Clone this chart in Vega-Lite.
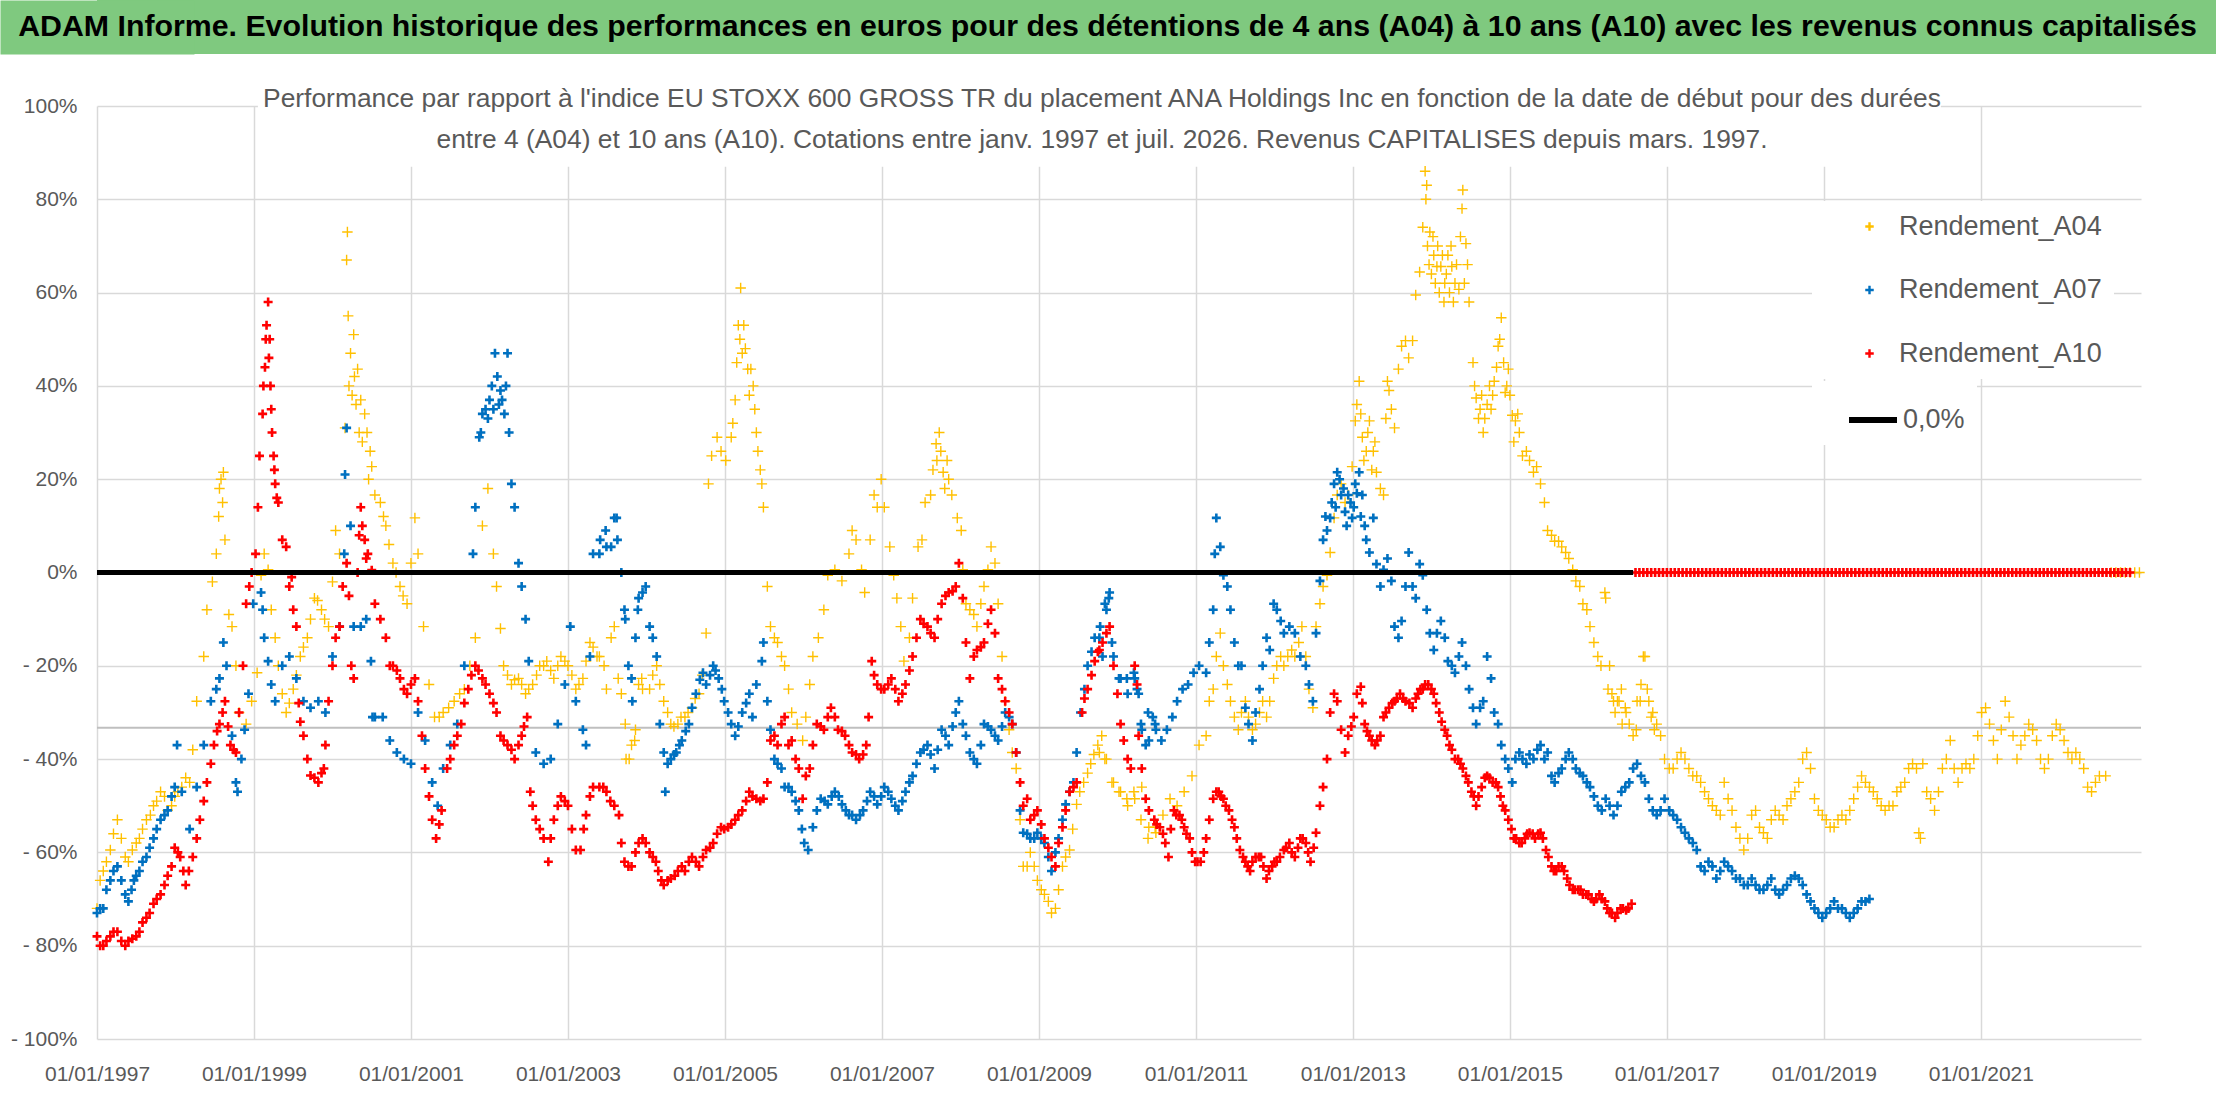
{
  "$schema": "https://vega.github.io/schema/vega-lite/v6.json",
  "description": "ADAM Informe - ANA Holdings Inc vs EU STOXX 600 GROSS TR, rendements A04 A07 A10",
  "background": "white",
  "padding": 0,
  "columns": 1,
  "spacing": 31,
  "resolve": {"scale": {"color": "independent", "strokeDash": "independent"}, "legend": {"color": "independent", "strokeDash": "independent"}},
  "config": {"view": {"stroke": null}},
  "datasets": {
    "a04": [
      {"t":1997.00,"v":-72},{"t":1997.04,"v":-66},{"t":1997.08,"v":-64},{"t":1997.12,"v":-62},{"t":1997.17,"v":-59.5},{"t":1997.21,"v":-56},{"t":1997.26,"v":-53},{"t":1997.31,"v":-57},{"t":1997.36,"v":-61},{"t":1997.40,"v":-62},{"t":1997.45,"v":-59.5},{"t":1997.50,"v":-58},{"t":1997.54,"v":-57},{"t":1997.58,"v":-55},{"t":1997.63,"v":-53},{"t":1997.68,"v":-52},{"t":1997.72,"v":-50},{"t":1997.76,"v":-49},{"t":1997.81,"v":-47},{"t":1997.86,"v":-48},{"t":1997.90,"v":-51},{"t":1997.95,"v":-50},{"t":1997.99,"v":-48},{"t":1998.03,"v":-47},{"t":1998.08,"v":-46},{"t":1998.13,"v":-44},{"t":1998.18,"v":-45},{"t":1998.22,"v":-38},{"t":1998.27,"v":-27.6},{"t":1998.36,"v":-18},{"t":1998.40,"v":-8},{"t":1998.47,"v":-2},{"t":1998.52,"v":4},{"t":1998.55,"v":12},{"t":1998.56,"v":18},{"t":1998.58,"v":20},{"t":1998.60,"v":15},{"t":1998.61,"v":21.5},{"t":1998.63,"v":7},{"t":1998.68,"v":-9},{"t":1998.72,"v":-11.6},{"t":1998.77,"v":-20},{"t":1998.81,"v":-30},{"t":1998.90,"v":-32.5},{"t":1998.97,"v":-27.6},{"t":1999.04,"v":-21.5},{"t":1999.09,"v":-0.6},{"t":1999.13,"v":4},{"t":1999.18,"v":0.6},{"t":1999.22,"v":-8},{"t":1999.27,"v":-14},{"t":1999.31,"v":-20},{"t":1999.36,"v":-26},{"t":1999.41,"v":-30},{"t":1999.45,"v":-28},{"t":1999.50,"v":-25},{"t":1999.54,"v":-22},{"t":1999.59,"v":-18},{"t":1999.63,"v":-16},{"t":1999.68,"v":-14},{"t":1999.72,"v":-10},{"t":1999.77,"v":-5.5},{"t":1999.81,"v":-6},{"t":1999.86,"v":-8},{"t":1999.90,"v":-10},{"t":1999.95,"v":-11.6},{"t":2000.00,"v":-2},{"t":2000.04,"v":9},{"t":2000.09,"v":4},{"t":2000.16,"v":31},{"t":2000.18,"v":67},{"t":2000.19,"v":73},{"t":2000.20,"v":55},{"t":2000.21,"v":40},{"t":2000.23,"v":47},{"t":2000.25,"v":38},{"t":2000.27,"v":51},{"t":2000.28,"v":42},{"t":2000.30,"v":36},{"t":2000.32,"v":43.6},{"t":2000.34,"v":30},{"t":2000.36,"v":37},{"t":2000.38,"v":28},{"t":2000.41,"v":34},{"t":2000.44,"v":30},{"t":2000.46,"v":20},{"t":2000.48,"v":26},{"t":2000.50,"v":22.7},{"t":2000.54,"v":16.6},{"t":2000.61,"v":15},{"t":2000.65,"v":12},{"t":2000.68,"v":10},{"t":2000.72,"v":6},{"t":2000.77,"v":2},{"t":2000.81,"v":0},{"t":2000.86,"v":-3},{"t":2000.90,"v":-5},{"t":2000.95,"v":-6.7},{"t":2001.00,"v":2},{"t":2001.05,"v":11.7},{"t":2001.09,"v":4},{"t":2001.16,"v":-11.6},{"t":2001.23,"v":-24},{"t":2001.30,"v":-31},{"t":2001.36,"v":-31},{"t":2001.41,"v":-30},{"t":2001.48,"v":-29},{"t":2001.55,"v":-27.6},{"t":2001.62,"v":-26},{"t":2001.68,"v":-25},{"t":2001.75,"v":-20},{"t":2001.82,"v":-14},{"t":2001.91,"v":10},{"t":2001.98,"v":18},{"t":2002.05,"v":4},{"t":2002.09,"v":-3},{"t":2002.14,"v":-12},{"t":2002.18,"v":-20},{"t":2002.23,"v":-22},{"t":2002.28,"v":-24},{"t":2002.32,"v":-23},{"t":2002.37,"v":-22.7},{"t":2002.41,"v":-24},{"t":2002.46,"v":-26},{"t":2002.50,"v":-25},{"t":2002.55,"v":-24},{"t":2002.60,"v":-22},{"t":2002.64,"v":-20},{"t":2002.69,"v":-20},{"t":2002.73,"v":-19},{"t":2002.78,"v":-21},{"t":2002.82,"v":-22.7},{"t":2002.87,"v":-20},{"t":2002.91,"v":-18},{"t":2002.96,"v":-19},{"t":2003.00,"v":-20},{"t":2003.05,"v":-22},{"t":2003.10,"v":-25},{"t":2003.14,"v":-24},{"t":2003.19,"v":-22.7},{"t":2003.23,"v":-19},{"t":2003.28,"v":-15},{"t":2003.32,"v":-16},{"t":2003.37,"v":-18},{"t":2003.40,"v":-18},{"t":2003.46,"v":-20},{"t":2003.49,"v":-25},{"t":2003.55,"v":-14},{"t":2003.59,"v":-11.6},{"t":2003.64,"v":-22.7},{"t":2003.68,"v":-26},{"t":2003.73,"v":-32.5},{"t":2003.74,"v":-40},{"t":2003.78,"v":-40},{"t":2003.81,"v":-37},{"t":2003.85,"v":-36},{"t":2003.86,"v":-33.7},{"t":2003.90,"v":-24},{"t":2003.94,"v":-22.7},{"t":2003.95,"v":-25},{"t":2004.04,"v":-25},{"t":2004.08,"v":-22},{"t":2004.13,"v":-20},{"t":2004.17,"v":-24},{"t":2004.22,"v":-27.6},{"t":2004.27,"v":-30},{"t":2004.31,"v":-32.5},{"t":2004.35,"v":-33},{"t":2004.40,"v":-32.5},{"t":2004.44,"v":-31},{"t":2004.49,"v":-31},{"t":2004.53,"v":-30},{"t":2004.58,"v":-29},{"t":2004.62,"v":-27},{"t":2004.67,"v":-26},{"t":2004.71,"v":-22},{"t":2004.76,"v":-13},{"t":2004.79,"v":19},{"t":2004.83,"v":25},{"t":2004.90,"v":29},{"t":2004.95,"v":26},{"t":2005.01,"v":24},{"t":2005.08,"v":29},{"t":2005.10,"v":32},{"t":2005.13,"v":37},{"t":2005.15,"v":45},{"t":2005.17,"v":53},{"t":2005.19,"v":50},{"t":2005.20,"v":61},{"t":2005.22,"v":47},{"t":2005.24,"v":53},{"t":2005.26,"v":48},{"t":2005.29,"v":43.6},{"t":2005.31,"v":38},{"t":2005.33,"v":43.6},{"t":2005.36,"v":40},{"t":2005.38,"v":35},{"t":2005.40,"v":30},{"t":2005.42,"v":26},{"t":2005.45,"v":22},{"t":2005.47,"v":19},{"t":2005.49,"v":14},{"t":2005.54,"v":-3},{"t":2005.58,"v":-11.6},{"t":2005.63,"v":-14},{"t":2005.67,"v":-15},{"t":2005.72,"v":-18},{"t":2005.76,"v":-20},{"t":2005.81,"v":-25},{"t":2005.85,"v":-30},{"t":2005.92,"v":-32.5},{"t":2005.99,"v":-36},{"t":2006.03,"v":-31},{"t":2006.08,"v":-24},{"t":2006.12,"v":-18},{"t":2006.19,"v":-14},{"t":2006.26,"v":-8},{"t":2006.31,"v":-0.6},{"t":2006.40,"v":0.6},{"t":2006.49,"v":-1.8},{"t":2006.58,"v":4},{"t":2006.62,"v":9},{"t":2006.67,"v":7},{"t":2006.74,"v":0.6},{"t":2006.78,"v":-4.3},{"t":2006.85,"v":7},{"t":2006.90,"v":16.6},{"t":2006.94,"v":14},{"t":2006.99,"v":20},{"t":2007.03,"v":14},{"t":2007.10,"v":5.5},{"t":2007.15,"v":-0.6},{"t":2007.19,"v":-5.5},{"t":2007.24,"v":-11.6},{"t":2007.28,"v":-19},{"t":2007.35,"v":-14},{"t":2007.39,"v":-5.5},{"t":2007.46,"v":5.5},{"t":2007.51,"v":7},{"t":2007.55,"v":15},{"t":2007.62,"v":16.6},{"t":2007.65,"v":22},{"t":2007.69,"v":27.6},{"t":2007.70,"v":24},{"t":2007.73,"v":30},{"t":2007.75,"v":26},{"t":2007.78,"v":21.5},{"t":2007.80,"v":18},{"t":2007.83,"v":24},{"t":2007.85,"v":20},{"t":2007.89,"v":16.6},{"t":2007.96,"v":11.7},{"t":2008.01,"v":9},{"t":2008.03,"v":0.6},{"t":2008.07,"v":-6.7},{"t":2008.12,"v":-8},{"t":2008.17,"v":-9},{"t":2008.21,"v":-11.6},{"t":2008.26,"v":-6.7},{"t":2008.30,"v":-3},{"t":2008.35,"v":0.6},{"t":2008.39,"v":5.5},{"t":2008.44,"v":2},{"t":2008.48,"v":-6.7},{"t":2008.53,"v":-18},{"t":2008.57,"v":-27.6},{"t":2008.62,"v":-33.7},{"t":2008.66,"v":-38.6},{"t":2008.71,"v":-42},{"t":2008.76,"v":-53},{"t":2008.80,"v":-63},{"t":2008.85,"v":-63},{"t":2008.89,"v":-60},{"t":2008.94,"v":-63},{"t":2008.98,"v":-66},{"t":2009.03,"v":-68},{"t":2009.07,"v":-69},{"t":2009.12,"v":-70.5},{"t":2009.16,"v":-73},{"t":2009.21,"v":-72},{"t":2009.25,"v":-68},{"t":2009.30,"v":-63},{"t":2009.34,"v":-61},{"t":2009.39,"v":-59.5},{"t":2009.43,"v":-55},{"t":2009.48,"v":-49.7},{"t":2009.52,"v":-47},{"t":2009.57,"v":-45},{"t":2009.62,"v":-43},{"t":2009.66,"v":-41},{"t":2009.70,"v":-39},{"t":2009.75,"v":-37},{"t":2009.77,"v":-38.6},{"t":2009.80,"v":-35},{"t":2009.84,"v":-40},{"t":2009.86,"v":-40},{"t":2009.93,"v":-45},{"t":2009.95,"v":-45},{"t":2010.02,"v":-47},{"t":2010.04,"v":-47},{"t":2010.12,"v":-48.5},{"t":2010.13,"v":-50},{"t":2010.21,"v":-47},{"t":2010.22,"v":-48.5},{"t":2010.30,"v":-53},{"t":2010.31,"v":-46},{"t":2010.39,"v":-57},{"t":2010.40,"v":-54.6},{"t":2010.48,"v":-54.6},{"t":2010.49,"v":-55.8},{"t":2010.58,"v":-52},{"t":2010.67,"v":-48.5},{"t":2010.76,"v":-50},{"t":2010.85,"v":-47},{"t":2010.95,"v":-43.6},{"t":2011.04,"v":-37},{"t":2011.13,"v":-35},{"t":2011.17,"v":-27.6},{"t":2011.22,"v":-25},{"t":2011.26,"v":-18},{"t":2011.31,"v":-13},{"t":2011.35,"v":-20},{"t":2011.40,"v":-24},{"t":2011.44,"v":-27.6},{"t":2011.49,"v":-31},{"t":2011.54,"v":-33.7},{"t":2011.58,"v":-30},{"t":2011.63,"v":-27.6},{"t":2011.67,"v":-31},{"t":2011.72,"v":-33.7},{"t":2011.76,"v":-32.5},{"t":2011.81,"v":-30},{"t":2011.85,"v":-27.6},{"t":2011.90,"v":-31},{"t":2011.94,"v":-27.6},{"t":2011.99,"v":-22.7},{"t":2012.03,"v":-20},{"t":2012.08,"v":-18},{"t":2012.12,"v":-20},{"t":2012.17,"v":-18},{"t":2012.22,"v":-16.6},{"t":2012.26,"v":-18},{"t":2012.31,"v":-15},{"t":2012.35,"v":-11.6},{"t":2012.40,"v":-18},{"t":2012.44,"v":-25},{"t":2012.49,"v":-29},{"t":2012.53,"v":-11.6},{"t":2012.58,"v":-6.7},{"t":2012.62,"v":-3},{"t":2012.67,"v":-0.6},{"t":2012.71,"v":4.3},{"t":2012.76,"v":11.7},{"t":2012.80,"v":16.6},{"t":2012.85,"v":19},{"t":2012.90,"v":15},{"t":2012.94,"v":16.6},{"t":2012.99,"v":22.7},{"t":2013.03,"v":32.5},{"t":2013.05,"v":36},{"t":2013.08,"v":41},{"t":2013.10,"v":34},{"t":2013.12,"v":29},{"t":2013.14,"v":24},{"t":2013.17,"v":26},{"t":2013.19,"v":30},{"t":2013.21,"v":32.5},{"t":2013.24,"v":22},{"t":2013.26,"v":26},{"t":2013.28,"v":28},{"t":2013.30,"v":21.5},{"t":2013.35,"v":18},{"t":2013.39,"v":16.6},{"t":2013.42,"v":33},{"t":2013.44,"v":41},{"t":2013.46,"v":39},{"t":2013.49,"v":35},{"t":2013.53,"v":31},{"t":2013.58,"v":43.6},{"t":2013.62,"v":48.5},{"t":2013.67,"v":49.7},{"t":2013.71,"v":46},{"t":2013.76,"v":49.7},{"t":2013.80,"v":59.5},{"t":2013.85,"v":64.4},{"t":2013.89,"v":74},{"t":2013.92,"v":86},{"t":2013.93,"v":80},{"t":2013.94,"v":83},{"t":2013.95,"v":70},{"t":2013.97,"v":66},{"t":2013.98,"v":73},{"t":2014.00,"v":64},{"t":2014.02,"v":72},{"t":2014.03,"v":68},{"t":2014.05,"v":62},{"t":2014.07,"v":65.6},{"t":2014.08,"v":70},{"t":2014.10,"v":60},{"t":2014.12,"v":65.6},{"t":2014.14,"v":68},{"t":2014.16,"v":58},{"t":2014.17,"v":62},{"t":2014.19,"v":64},{"t":2014.21,"v":68},{"t":2014.23,"v":60},{"t":2014.25,"v":70},{"t":2014.26,"v":65.6},{"t":2014.28,"v":58},{"t":2014.30,"v":62},{"t":2014.32,"v":66},{"t":2014.35,"v":60.7},{"t":2014.37,"v":72},{"t":2014.39,"v":78},{"t":2014.40,"v":82},{"t":2014.42,"v":62},{"t":2014.44,"v":70.5},{"t":2014.46,"v":66},{"t":2014.48,"v":58},{"t":2014.53,"v":45},{"t":2014.55,"v":40},{"t":2014.57,"v":37.4},{"t":2014.60,"v":33},{"t":2014.62,"v":35},{"t":2014.64,"v":38},{"t":2014.66,"v":30},{"t":2014.68,"v":33},{"t":2014.71,"v":36},{"t":2014.74,"v":40},{"t":2014.76,"v":35},{"t":2014.78,"v":38},{"t":2014.80,"v":41},{"t":2014.83,"v":44},{"t":2014.85,"v":48.5},{"t":2014.87,"v":50},{"t":2014.89,"v":54.6},{"t":2014.92,"v":45},{"t":2014.94,"v":38.6},{"t":2014.96,"v":40},{"t":2014.98,"v":43.6},{"t":2015.00,"v":38},{"t":2015.03,"v":33.7},{"t":2015.05,"v":28},{"t":2015.07,"v":32.5},{"t":2015.10,"v":34},{"t":2015.12,"v":30},{"t":2015.16,"v":25},{"t":2015.21,"v":26},{"t":2015.25,"v":24},{"t":2015.30,"v":21.5},{"t":2015.34,"v":22.7},{"t":2015.39,"v":19},{"t":2015.44,"v":15},{"t":2015.48,"v":9},{"t":2015.53,"v":8},{"t":2015.57,"v":6.7},{"t":2015.62,"v":6.7},{"t":2015.66,"v":5.5},{"t":2015.71,"v":4.3},{"t":2015.75,"v":3},{"t":2015.80,"v":0.6},{"t":2015.84,"v":-1.8},{"t":2015.89,"v":-3},{"t":2015.93,"v":-6.7},{"t":2015.98,"v":-8},{"t":2016.02,"v":-11.6},{"t":2016.07,"v":-15},{"t":2016.12,"v":-18},{"t":2016.16,"v":-20},{"t":2016.21,"v":-4.3},{"t":2016.22,"v":-5.5},{"t":2016.25,"v":-25},{"t":2016.27,"v":-20},{"t":2016.30,"v":-26},{"t":2016.32,"v":-27.6},{"t":2016.34,"v":-30},{"t":2016.37,"v":-27.6},{"t":2016.39,"v":-27.6},{"t":2016.42,"v":-25},{"t":2016.43,"v":-32.5},{"t":2016.47,"v":-29},{"t":2016.48,"v":-30},{"t":2016.52,"v":-32.5},{"t":2016.57,"v":-35},{"t":2016.61,"v":-33.7},{"t":2016.62,"v":-27.6},{"t":2016.66,"v":-27.6},{"t":2016.67,"v":-24},{"t":2016.70,"v":-18},{"t":2016.72,"v":-18},{"t":2016.75,"v":-25},{"t":2016.77,"v":-27.6},{"t":2016.80,"v":-31},{"t":2016.82,"v":-30},{"t":2016.84,"v":-33.7},{"t":2016.87,"v":-32.5},{"t":2016.92,"v":-35},{"t":2016.97,"v":-40},{"t":2017.03,"v":-42},{"t":2017.08,"v":-42},{"t":2017.13,"v":-40},{"t":2017.18,"v":-38.6},{"t":2017.23,"v":-40},{"t":2017.28,"v":-42},{"t":2017.33,"v":-43.6},{"t":2017.38,"v":-43.6},{"t":2017.43,"v":-45},{"t":2017.48,"v":-47},{"t":2017.53,"v":-48.5},{"t":2017.58,"v":-50},{"t":2017.63,"v":-51},{"t":2017.68,"v":-52},{"t":2017.73,"v":-45},{"t":2017.78,"v":-48.5},{"t":2017.83,"v":-51},{"t":2017.88,"v":-54.6},{"t":2017.93,"v":-57},{"t":2017.98,"v":-59.5},{"t":2018.03,"v":-57},{"t":2018.08,"v":-52},{"t":2018.13,"v":-51},{"t":2018.18,"v":-54.6},{"t":2018.23,"v":-55.8},{"t":2018.28,"v":-57},{"t":2018.33,"v":-53},{"t":2018.38,"v":-51},{"t":2018.43,"v":-52},{"t":2018.48,"v":-53},{"t":2018.53,"v":-50},{"t":2018.58,"v":-48.5},{"t":2018.63,"v":-47},{"t":2018.68,"v":-45},{"t":2018.73,"v":-40},{"t":2018.78,"v":-38.6},{"t":2018.83,"v":-42},{"t":2018.88,"v":-48.5},{"t":2018.93,"v":-51},{"t":2018.98,"v":-52},{"t":2019.03,"v":-53},{"t":2019.08,"v":-54.6},{"t":2019.13,"v":-54.6},{"t":2019.18,"v":-53},{"t":2019.23,"v":-52},{"t":2019.28,"v":-53},{"t":2019.33,"v":-51},{"t":2019.38,"v":-48.5},{"t":2019.43,"v":-46},{"t":2019.48,"v":-43.6},{"t":2019.53,"v":-45},{"t":2019.58,"v":-46},{"t":2019.63,"v":-47},{"t":2019.68,"v":-48.5},{"t":2019.73,"v":-50},{"t":2019.78,"v":-51},{"t":2019.83,"v":-50},{"t":2019.88,"v":-50},{"t":2019.93,"v":-47},{"t":2019.98,"v":-46},{"t":2020.03,"v":-45},{"t":2020.08,"v":-42},{"t":2020.13,"v":-41},{"t":2020.18,"v":-42},{"t":2020.21,"v":-55.8},{"t":2020.23,"v":-57},{"t":2020.26,"v":-41},{"t":2020.31,"v":-47},{"t":2020.36,"v":-48.5},{"t":2020.41,"v":-51},{"t":2020.46,"v":-47},{"t":2020.51,"v":-42},{"t":2020.56,"v":-40},{"t":2020.61,"v":-36},{"t":2020.66,"v":-42},{"t":2020.71,"v":-45},{"t":2020.76,"v":-42},{"t":2020.81,"v":-41},{"t":2020.86,"v":-42},{"t":2020.91,"v":-40},{"t":2020.96,"v":-35},{"t":2021.01,"v":-30},{"t":2021.06,"v":-29},{"t":2021.11,"v":-32.5},{"t":2021.16,"v":-36},{"t":2021.21,"v":-40},{"t":2021.26,"v":-33.7},{"t":2021.31,"v":-27.6},{"t":2021.36,"v":-31},{"t":2021.41,"v":-35},{"t":2021.46,"v":-40},{"t":2021.51,"v":-37},{"t":2021.56,"v":-35},{"t":2021.61,"v":-32.5},{"t":2021.66,"v":-33.7},{"t":2021.71,"v":-36},{"t":2021.76,"v":-40},{"t":2021.81,"v":-42},{"t":2021.86,"v":-40},{"t":2021.91,"v":-35},{"t":2021.96,"v":-32.5},{"t":2022.01,"v":-33.7},{"t":2022.06,"v":-36},{"t":2022.11,"v":-38.6},{"t":2022.16,"v":-40},{"t":2022.21,"v":-38.6},{"t":2022.26,"v":-40},{"t":2022.31,"v":-42},{"t":2022.36,"v":-46},{"t":2022.41,"v":-47},{"t":2022.46,"v":-45},{"t":2022.51,"v":-43.6},{"t":2022.59,"v":-43.6},
      {"t":2022.66,"v":0},{"t":2022.72,"v":0},{"t":2022.78,"v":0},{"t":2022.84,"v":0},{"t":2022.90,"v":0},{"t":2022.96,"v":0},{"t":2023.02,"v":0}
    ],
    "a07": [
      {"t":1997.00,"v":-73},{"t":1997.04,"v":-72},{"t":1997.08,"v":-72},{"t":1997.12,"v":-68},{"t":1997.17,"v":-66},{"t":1997.21,"v":-64},{"t":1997.26,"v":-63},{"t":1997.31,"v":-66},{"t":1997.36,"v":-69},{"t":1997.40,"v":-70.5},{"t":1997.44,"v":-68},{"t":1997.47,"v":-66},{"t":1997.50,"v":-65},{"t":1997.54,"v":-64},{"t":1997.58,"v":-62},{"t":1997.63,"v":-61},{"t":1997.67,"v":-59},{"t":1997.72,"v":-57},{"t":1997.76,"v":-55},{"t":1997.81,"v":-53},{"t":1997.86,"v":-52},{"t":1997.90,"v":-51},{"t":1997.95,"v":-48},{"t":1997.99,"v":-46},{"t":1998.02,"v":-37},{"t":1998.08,"v":-47},{"t":1998.18,"v":-55},{"t":1998.27,"v":-46},{"t":1998.36,"v":-37},{"t":1998.45,"v":-27.6},{"t":1998.52,"v":-25},{"t":1998.56,"v":-22.7},{"t":1998.61,"v":-15},{"t":1998.65,"v":-20},{"t":1998.72,"v":-35},{"t":1998.77,"v":-45},{"t":1998.79,"v":-47},{"t":1998.84,"v":-40},{"t":1998.88,"v":-33.7},{"t":1998.93,"v":-26},{"t":1998.99,"v":-6.7},{"t":1999.09,"v":-4.3},{"t":1999.11,"v":-8},{"t":1999.13,"v":-14},{"t":1999.18,"v":-19},{"t":1999.22,"v":-24},{"t":1999.27,"v":-27.6},{"t":1999.36,"v":-20},{"t":1999.45,"v":-18},{"t":1999.54,"v":-22.7},{"t":1999.63,"v":-27.6},{"t":1999.72,"v":-29},{"t":1999.82,"v":-27.6},{"t":1999.91,"v":-30},{"t":2000.00,"v":-18},{"t":2000.09,"v":-11.6},{"t":2000.15,"v":4},{"t":2000.16,"v":21},{"t":2000.18,"v":31},{"t":2000.23,"v":10},{"t":2000.27,"v":-11.6},{"t":2000.36,"v":-11.6},{"t":2000.43,"v":-10},{"t":2000.49,"v":-19},{"t":2000.51,"v":-31},{"t":2000.54,"v":-31},{"t":2000.64,"v":-31},{"t":2000.73,"v":-36},{"t":2000.82,"v":-38.6},{"t":2000.91,"v":-40},{"t":2001.00,"v":-41},{"t":2001.09,"v":-30},{"t":2001.18,"v":-36},{"t":2001.27,"v":-45},{"t":2001.34,"v":-50},{"t":2001.41,"v":-42},{"t":2001.50,"v":-37},{"t":2001.59,"v":-32.5},{"t":2001.68,"v":-20},{"t":2001.79,"v":4},{"t":2001.82,"v":14},{"t":2001.87,"v":29},{"t":2001.89,"v":30},{"t":2001.91,"v":34},{"t":2001.95,"v":35},{"t":2001.98,"v":33},{"t":2002.00,"v":37},{"t":2002.03,"v":40},{"t":2002.05,"v":35},{"t":2002.07,"v":47},{"t":2002.10,"v":42},{"t":2002.12,"v":36},{"t":2002.14,"v":39},{"t":2002.16,"v":37},{"t":2002.19,"v":34},{"t":2002.21,"v":40},{"t":2002.23,"v":47},{"t":2002.25,"v":30},{"t":2002.28,"v":19},{"t":2002.32,"v":14},{"t":2002.37,"v":2},{"t":2002.41,"v":-3},{"t":2002.46,"v":-10},{"t":2002.50,"v":-19},{"t":2002.59,"v":-38.6},{"t":2002.69,"v":-41},{"t":2002.78,"v":-40},{"t":2002.87,"v":-32.5},{"t":2002.96,"v":-24},{"t":2003.03,"v":-11.6},{"t":2003.10,"v":-27.6},{"t":2003.19,"v":-33.7},{"t":2003.23,"v":-37},{"t":2003.28,"v":-18},{"t":2003.32,"v":4},{"t":2003.40,"v":4},{"t":2003.41,"v":7},{"t":2003.48,"v":9},{"t":2003.49,"v":5.5},{"t":2003.55,"v":5.5},{"t":2003.59,"v":11.7},{"t":2003.62,"v":11.7},{"t":2003.63,"v":7},{"t":2003.68,"v":0},{"t":2003.72,"v":-8},{"t":2003.73,"v":-10},{"t":2003.77,"v":-20},{"t":2003.81,"v":-22.7},{"t":2003.82,"v":-27.6},{"t":2003.86,"v":-14},{"t":2003.89,"v":-8},{"t":2003.90,"v":-5.5},{"t":2003.95,"v":-4.3},{"t":2003.99,"v":-3},{"t":2004.04,"v":-11.6},{"t":2004.08,"v":-14},{"t":2004.13,"v":-18},{"t":2004.17,"v":-32.5},{"t":2004.22,"v":-38.6},{"t":2004.24,"v":-47},{"t":2004.27,"v":-41},{"t":2004.31,"v":-40},{"t":2004.35,"v":-39},{"t":2004.38,"v":-38.6},{"t":2004.42,"v":-37},{"t":2004.45,"v":-36},{"t":2004.50,"v":-34},{"t":2004.54,"v":-32.5},{"t":2004.58,"v":-29},{"t":2004.63,"v":-26},{"t":2004.68,"v":-23},{"t":2004.72,"v":-21.5},{"t":2004.76,"v":-24},{"t":2004.81,"v":-22},{"t":2004.85,"v":-20},{"t":2004.88,"v":-21},{"t":2004.92,"v":-22.7},{"t":2004.96,"v":-25},{"t":2004.99,"v":-27.6},{"t":2005.04,"v":-30},{"t":2005.08,"v":-32.5},{"t":2005.13,"v":-35},{"t":2005.17,"v":-33},{"t":2005.22,"v":-30},{"t":2005.27,"v":-28},{"t":2005.31,"v":-26},{"t":2005.35,"v":-31},{"t":2005.40,"v":-24},{"t":2005.47,"v":-19},{"t":2005.49,"v":-15},{"t":2005.54,"v":-27.6},{"t":2005.58,"v":-33.7},{"t":2005.63,"v":-40},{"t":2005.67,"v":-41},{"t":2005.72,"v":-42},{"t":2005.76,"v":-46},{"t":2005.81,"v":-46},{"t":2005.85,"v":-47},{"t":2005.90,"v":-49},{"t":2005.94,"v":-51},{"t":2005.98,"v":-55},{"t":2006.01,"v":-58},{"t":2006.06,"v":-59.5},{"t":2006.12,"v":-54.6},{"t":2006.17,"v":-51},{"t":2006.22,"v":-48.5},{"t":2006.27,"v":-49},{"t":2006.31,"v":-49.7},{"t":2006.36,"v":-48},{"t":2006.40,"v":-47},{"t":2006.45,"v":-48},{"t":2006.49,"v":-49.7},{"t":2006.54,"v":-51},{"t":2006.58,"v":-52},{"t":2006.62,"v":-52},{"t":2006.67,"v":-53},{"t":2006.72,"v":-52},{"t":2006.76,"v":-51},{"t":2006.81,"v":-49},{"t":2006.85,"v":-47},{"t":2006.90,"v":-48},{"t":2006.94,"v":-49.7},{"t":2006.99,"v":-48},{"t":2007.03,"v":-46},{"t":2007.08,"v":-47},{"t":2007.12,"v":-48.5},{"t":2007.17,"v":-50},{"t":2007.21,"v":-51},{"t":2007.26,"v":-49},{"t":2007.30,"v":-47},{"t":2007.35,"v":-45},{"t":2007.39,"v":-43.6},{"t":2007.44,"v":-41},{"t":2007.49,"v":-38.6},{"t":2007.53,"v":-38},{"t":2007.58,"v":-37},{"t":2007.62,"v":-39},{"t":2007.67,"v":-42},{"t":2007.71,"v":-38},{"t":2007.76,"v":-33.7},{"t":2007.81,"v":-35},{"t":2007.85,"v":-37},{"t":2007.90,"v":-33},{"t":2007.94,"v":-30},{"t":2007.98,"v":-27.6},{"t":2008.03,"v":-32.5},{"t":2008.07,"v":-35},{"t":2008.12,"v":-38.6},{"t":2008.17,"v":-40},{"t":2008.21,"v":-41},{"t":2008.26,"v":-37},{"t":2008.30,"v":-32.5},{"t":2008.35,"v":-33},{"t":2008.39,"v":-33.7},{"t":2008.44,"v":-35},{"t":2008.48,"v":-36},{"t":2008.53,"v":-33},{"t":2008.57,"v":-30},{"t":2008.62,"v":-31},{"t":2008.66,"v":-32.5},{"t":2008.71,"v":-38.6},{"t":2008.76,"v":-51},{"t":2008.80,"v":-55.8},{"t":2008.85,"v":-56},{"t":2008.89,"v":-57},{"t":2008.94,"v":-57},{"t":2008.98,"v":-55.8},{"t":2009.03,"v":-57},{"t":2009.07,"v":-58},{"t":2009.12,"v":-61},{"t":2009.16,"v":-64},{"t":2009.21,"v":-60},{"t":2009.25,"v":-57},{"t":2009.30,"v":-53},{"t":2009.34,"v":-49.7},{"t":2009.39,"v":-47},{"t":2009.44,"v":-45},{"t":2009.48,"v":-38.6},{"t":2009.53,"v":-30},{"t":2009.58,"v":-25},{"t":2009.62,"v":-20},{"t":2009.67,"v":-17},{"t":2009.71,"v":-14},{"t":2009.77,"v":-14},{"t":2009.78,"v":-11.6},{"t":2009.81,"v":-18},{"t":2009.84,"v":-6.7},{"t":2009.86,"v":-8},{"t":2009.89,"v":-5.5},{"t":2009.90,"v":-4.3},{"t":2009.93,"v":-15},{"t":2009.95,"v":-18},{"t":2010.02,"v":-22.7},{"t":2010.04,"v":-22.7},{"t":2010.12,"v":-22.7},{"t":2010.13,"v":-26},{"t":2010.21,"v":-21.5},{"t":2010.22,"v":-22.7},{"t":2010.25,"v":-25},{"t":2010.27,"v":-26},{"t":2010.30,"v":-32.5},{"t":2010.31,"v":-33.7},{"t":2010.36,"v":-37},{"t":2010.39,"v":-30},{"t":2010.40,"v":-36},{"t":2010.45,"v":-31},{"t":2010.48,"v":-32.5},{"t":2010.49,"v":-33.7},{"t":2010.56,"v":-36},{"t":2010.63,"v":-33.7},{"t":2010.70,"v":-31},{"t":2010.76,"v":-27.6},{"t":2010.83,"v":-25},{"t":2010.90,"v":-24},{"t":2010.97,"v":-21.5},{"t":2011.04,"v":-20},{"t":2011.13,"v":-21.5},{"t":2011.17,"v":-15},{"t":2011.22,"v":-8},{"t":2011.24,"v":4},{"t":2011.26,"v":11.7},{"t":2011.31,"v":5.5},{"t":2011.35,"v":-0.6},{"t":2011.40,"v":-3},{"t":2011.44,"v":-8},{"t":2011.49,"v":-15},{"t":2011.54,"v":-20},{"t":2011.58,"v":-20},{"t":2011.63,"v":-29},{"t":2011.67,"v":-32.5},{"t":2011.72,"v":-36},{"t":2011.76,"v":-30},{"t":2011.81,"v":-25},{"t":2011.85,"v":-20},{"t":2011.90,"v":-14},{"t":2011.94,"v":-16.6},{"t":2011.99,"v":-6.7},{"t":2012.03,"v":-8},{"t":2012.08,"v":-10.4},{"t":2012.12,"v":-13},{"t":2012.19,"v":-11.6},{"t":2012.26,"v":-13},{"t":2012.33,"v":-18},{"t":2012.40,"v":-20},{"t":2012.44,"v":-24},{"t":2012.49,"v":-27.6},{"t":2012.53,"v":-13},{"t":2012.58,"v":-1.8},{"t":2012.62,"v":7},{"t":2012.65,"v":12},{"t":2012.67,"v":9},{"t":2012.71,"v":11.7},{"t":2012.73,"v":15},{"t":2012.76,"v":19},{"t":2012.78,"v":14},{"t":2012.80,"v":21.5},{"t":2012.83,"v":20},{"t":2012.85,"v":16.6},{"t":2012.88,"v":18},{"t":2012.90,"v":13},{"t":2012.92,"v":10},{"t":2012.94,"v":16.6},{"t":2012.97,"v":15},{"t":2012.99,"v":11.7},{"t":2013.01,"v":14},{"t":2013.03,"v":19},{"t":2013.05,"v":17},{"t":2013.08,"v":21.5},{"t":2013.10,"v":12},{"t":2013.12,"v":16.6},{"t":2013.15,"v":10},{"t":2013.17,"v":7},{"t":2013.21,"v":4.3},{"t":2013.26,"v":11.7},{"t":2013.30,"v":1.8},{"t":2013.35,"v":-3},{"t":2013.39,"v":0.6},{"t":2013.44,"v":3},{"t":2013.49,"v":-1.8},{"t":2013.53,"v":-11.6},{"t":2013.58,"v":-14},{"t":2013.62,"v":-10.4},{"t":2013.67,"v":-3},{"t":2013.71,"v":4.3},{"t":2013.76,"v":-3},{"t":2013.80,"v":-5.5},{"t":2013.85,"v":1.8},{"t":2013.89,"v":-0.6},{"t":2013.94,"v":-8},{"t":2013.98,"v":-13},{"t":2014.03,"v":-16.6},{"t":2014.07,"v":-13},{"t":2014.12,"v":-10.4},{"t":2014.17,"v":-14},{"t":2014.21,"v":-19},{"t":2014.26,"v":-20},{"t":2014.30,"v":-21.5},{"t":2014.35,"v":-18},{"t":2014.39,"v":-15},{"t":2014.44,"v":-20},{"t":2014.48,"v":-25},{"t":2014.53,"v":-29},{"t":2014.57,"v":-32.5},{"t":2014.62,"v":-29},{"t":2014.66,"v":-27.6},{"t":2014.71,"v":-18},{"t":2014.76,"v":-22.7},{"t":2014.80,"v":-30},{"t":2014.85,"v":-32.5},{"t":2014.89,"v":-37},{"t":2014.94,"v":-40},{"t":2014.98,"v":-42},{"t":2015.03,"v":-45},{"t":2015.07,"v":-40},{"t":2015.12,"v":-38.6},{"t":2015.16,"v":-40},{"t":2015.21,"v":-41},{"t":2015.25,"v":-39},{"t":2015.30,"v":-40},{"t":2015.35,"v":-38},{"t":2015.39,"v":-37},{"t":2015.44,"v":-40},{"t":2015.48,"v":-38.6},{"t":2015.53,"v":-43.6},{"t":2015.57,"v":-45},{"t":2015.62,"v":-43},{"t":2015.66,"v":-42},{"t":2015.71,"v":-40},{"t":2015.75,"v":-38.6},{"t":2015.80,"v":-40},{"t":2015.84,"v":-42},{"t":2015.89,"v":-43},{"t":2015.93,"v":-43.6},{"t":2015.98,"v":-45},{"t":2016.02,"v":-46},{"t":2016.07,"v":-48},{"t":2016.12,"v":-50},{"t":2016.17,"v":-51},{"t":2016.22,"v":-48.5},{"t":2016.27,"v":-50},{"t":2016.32,"v":-52},{"t":2016.37,"v":-50},{"t":2016.42,"v":-47},{"t":2016.47,"v":-46},{"t":2016.52,"v":-45},{"t":2016.57,"v":-42},{"t":2016.62,"v":-41},{"t":2016.67,"v":-43.6},{"t":2016.72,"v":-45},{"t":2016.77,"v":-48.5},{"t":2016.82,"v":-51},{"t":2016.87,"v":-52},{"t":2016.92,"v":-51},{"t":2016.97,"v":-48.5},{"t":2017.03,"v":-51},{"t":2017.08,"v":-52},{"t":2017.13,"v":-53},{"t":2017.18,"v":-54.6},{"t":2017.23,"v":-55.8},{"t":2017.28,"v":-57},{"t":2017.33,"v":-58},{"t":2017.38,"v":-59.5},{"t":2017.43,"v":-63},{"t":2017.48,"v":-64},{"t":2017.53,"v":-62},{"t":2017.58,"v":-63},{"t":2017.63,"v":-65.6},{"t":2017.68,"v":-64},{"t":2017.73,"v":-62},{"t":2017.78,"v":-63},{"t":2017.83,"v":-64},{"t":2017.88,"v":-65.6},{"t":2017.93,"v":-65.6},{"t":2017.98,"v":-67},{"t":2018.03,"v":-67},{"t":2018.08,"v":-65.6},{"t":2018.13,"v":-67},{"t":2018.18,"v":-68},{"t":2018.23,"v":-68},{"t":2018.28,"v":-67},{"t":2018.33,"v":-65.6},{"t":2018.38,"v":-68},{"t":2018.43,"v":-69},{"t":2018.48,"v":-68},{"t":2018.53,"v":-67},{"t":2018.58,"v":-65.6},{"t":2018.63,"v":-65},{"t":2018.68,"v":-65.6},{"t":2018.73,"v":-67},{"t":2018.78,"v":-69},{"t":2018.83,"v":-70.5},{"t":2018.88,"v":-72},{"t":2018.93,"v":-73},{"t":2018.98,"v":-74},{"t":2019.03,"v":-73},{"t":2019.08,"v":-72},{"t":2019.13,"v":-70.5},{"t":2019.18,"v":-72},{"t":2019.23,"v":-72},{"t":2019.28,"v":-73},{"t":2019.33,"v":-74},{"t":2019.38,"v":-73},{"t":2019.43,"v":-72},{"t":2019.48,"v":-70.5},{"t":2019.53,"v":-70.5},{"t":2019.58,"v":-70}
    ],
    "a10": [
      {"t":1997.00,"v":-78},{"t":1997.04,"v":-80},{"t":1997.08,"v":-80},{"t":1997.12,"v":-79},{"t":1997.17,"v":-78},{"t":1997.21,"v":-77},{"t":1997.26,"v":-77},{"t":1997.31,"v":-79},{"t":1997.36,"v":-80},{"t":1997.40,"v":-79},{"t":1997.45,"v":-78.5},{"t":1997.50,"v":-78},{"t":1997.54,"v":-77},{"t":1997.58,"v":-75},{"t":1997.63,"v":-74},{"t":1997.67,"v":-73},{"t":1997.72,"v":-71},{"t":1997.76,"v":-70},{"t":1997.81,"v":-69},{"t":1997.86,"v":-67},{"t":1997.90,"v":-65},{"t":1997.95,"v":-63},{"t":1997.99,"v":-59},{"t":1998.03,"v":-60},{"t":1998.06,"v":-61},{"t":1998.10,"v":-64},{"t":1998.13,"v":-67},{"t":1998.17,"v":-64},{"t":1998.22,"v":-61},{"t":1998.27,"v":-57},{"t":1998.31,"v":-53},{"t":1998.36,"v":-49},{"t":1998.40,"v":-45},{"t":1998.45,"v":-41},{"t":1998.49,"v":-37},{"t":1998.53,"v":-34},{"t":1998.56,"v":-32.5},{"t":1998.60,"v":-30},{"t":1998.63,"v":-27.6},{"t":1998.67,"v":-33},{"t":1998.70,"v":-37},{"t":1998.74,"v":-38},{"t":1998.77,"v":-38.6},{"t":1998.81,"v":-30},{"t":1998.86,"v":-20},{"t":1998.90,"v":-6.7},{"t":1998.94,"v":-3},{"t":1998.97,"v":0},{"t":1999.02,"v":4},{"t":1999.05,"v":14},{"t":1999.07,"v":25},{"t":1999.11,"v":34},{"t":1999.12,"v":40},{"t":1999.14,"v":44},{"t":1999.15,"v":50},{"t":1999.16,"v":53},{"t":1999.18,"v":58},{"t":1999.19,"v":46},{"t":1999.20,"v":50},{"t":1999.21,"v":40},{"t":1999.22,"v":35},{"t":1999.23,"v":30},{"t":1999.25,"v":25},{"t":1999.26,"v":22},{"t":1999.27,"v":19},{"t":1999.29,"v":16},{"t":1999.31,"v":15},{"t":1999.36,"v":7},{"t":1999.41,"v":5.5},{"t":1999.45,"v":-3},{"t":1999.48,"v":-1},{"t":1999.50,"v":-8},{"t":1999.54,"v":-11.6},{"t":1999.57,"v":-28},{"t":1999.59,"v":-32},{"t":1999.63,"v":-35},{"t":1999.68,"v":-40},{"t":1999.72,"v":-43.5},{"t":1999.77,"v":-44},{"t":1999.82,"v":-45},{"t":1999.86,"v":-43},{"t":1999.89,"v":-42},{"t":1999.91,"v":-37},{"t":1999.95,"v":-27.6},{"t":2000.00,"v":-20},{"t":2000.04,"v":-14},{"t":2000.09,"v":-11.6},{"t":2000.13,"v":-3},{"t":2000.18,"v":2},{"t":2000.21,"v":-5},{"t":2000.24,"v":-20},{"t":2000.27,"v":-22.7},{"t":2000.32,"v":0},{"t":2000.34,"v":8},{"t":2000.36,"v":14},{"t":2000.38,"v":10},{"t":2000.41,"v":7},{"t":2000.43,"v":3},{"t":2000.45,"v":4},{"t":2000.50,"v":0.5},{"t":2000.54,"v":-6.7},{"t":2000.61,"v":-10},{"t":2000.68,"v":-14},{"t":2000.73,"v":-20},{"t":2000.77,"v":-20},{"t":2000.82,"v":-21},{"t":2000.86,"v":-22.7},{"t":2000.91,"v":-25},{"t":2000.95,"v":-26},{"t":2001.00,"v":-24},{"t":2001.05,"v":-22.7},{"t":2001.09,"v":-27.6},{"t":2001.14,"v":-35},{"t":2001.18,"v":-42},{"t":2001.23,"v":-48},{"t":2001.27,"v":-53},{"t":2001.32,"v":-57},{"t":2001.36,"v":-54},{"t":2001.39,"v":-51},{"t":2001.46,"v":-42},{"t":2001.50,"v":-40},{"t":2001.55,"v":-37},{"t":2001.59,"v":-35},{"t":2001.64,"v":-32.5},{"t":2001.68,"v":-28},{"t":2001.73,"v":-25},{"t":2001.77,"v":-22},{"t":2001.82,"v":-20},{"t":2001.86,"v":-21},{"t":2001.91,"v":-22.7},{"t":2001.95,"v":-24},{"t":2002.00,"v":-26},{"t":2002.05,"v":-28},{"t":2002.09,"v":-30},{"t":2002.14,"v":-35},{"t":2002.18,"v":-36},{"t":2002.23,"v":-37},{"t":2002.28,"v":-38},{"t":2002.32,"v":-40},{"t":2002.37,"v":-37},{"t":2002.41,"v":-35},{"t":2002.44,"v":-33},{"t":2002.48,"v":-31},{"t":2002.52,"v":-47},{"t":2002.55,"v":-50},{"t":2002.59,"v":-53},{"t":2002.64,"v":-55},{"t":2002.69,"v":-57},{"t":2002.75,"v":-62},{"t":2002.78,"v":-57},{"t":2002.82,"v":-53},{"t":2002.87,"v":-50},{"t":2002.91,"v":-48},{"t":2002.96,"v":-49},{"t":2003.00,"v":-50},{"t":2003.05,"v":-55},{"t":2003.10,"v":-59.5},{"t":2003.16,"v":-59.5},{"t":2003.20,"v":-55},{"t":2003.23,"v":-52},{"t":2003.28,"v":-48},{"t":2003.32,"v":-46},{"t":2003.40,"v":-46},{"t":2003.45,"v":-46},{"t":2003.49,"v":-47},{"t":2003.54,"v":-49},{"t":2003.59,"v":-50},{"t":2003.65,"v":-52},{"t":2003.68,"v":-58},{"t":2003.72,"v":-62},{"t":2003.77,"v":-63},{"t":2003.81,"v":-63},{"t":2003.86,"v":-60},{"t":2003.90,"v":-58},{"t":2003.95,"v":-57},{"t":2003.99,"v":-58},{"t":2004.04,"v":-60},{"t":2004.08,"v":-61},{"t":2004.12,"v":-62},{"t":2004.15,"v":-64},{"t":2004.19,"v":-66},{"t":2004.22,"v":-67},{"t":2004.27,"v":-66},{"t":2004.31,"v":-65.6},{"t":2004.36,"v":-65},{"t":2004.40,"v":-64},{"t":2004.45,"v":-63},{"t":2004.49,"v":-64},{"t":2004.54,"v":-62},{"t":2004.58,"v":-61},{"t":2004.63,"v":-62},{"t":2004.67,"v":-63},{"t":2004.72,"v":-61},{"t":2004.76,"v":-59.5},{"t":2004.81,"v":-59},{"t":2004.85,"v":-58},{"t":2004.90,"v":-56},{"t":2004.95,"v":-54.6},{"t":2004.99,"v":-55},{"t":2005.04,"v":-54.6},{"t":2005.08,"v":-54},{"t":2005.13,"v":-53},{"t":2005.17,"v":-52},{"t":2005.22,"v":-51},{"t":2005.27,"v":-49},{"t":2005.31,"v":-47},{"t":2005.35,"v":-48},{"t":2005.40,"v":-48.5},{"t":2005.45,"v":-49},{"t":2005.49,"v":-48.5},{"t":2005.54,"v":-45},{"t":2005.58,"v":-36},{"t":2005.63,"v":-35},{"t":2005.67,"v":-37},{"t":2005.72,"v":-32.5},{"t":2005.76,"v":-31},{"t":2005.81,"v":-37},{"t":2005.85,"v":-36},{"t":2005.90,"v":-40},{"t":2005.94,"v":-42},{"t":2005.99,"v":-48.5},{"t":2006.03,"v":-43.6},{"t":2006.08,"v":-42},{"t":2006.12,"v":-37},{"t":2006.17,"v":-32.5},{"t":2006.22,"v":-33},{"t":2006.26,"v":-33.7},{"t":2006.31,"v":-31},{"t":2006.35,"v":-29},{"t":2006.40,"v":-31},{"t":2006.44,"v":-33.7},{"t":2006.49,"v":-34},{"t":2006.53,"v":-35},{"t":2006.58,"v":-37},{"t":2006.62,"v":-38.6},{"t":2006.67,"v":-39},{"t":2006.71,"v":-40},{"t":2006.76,"v":-39},{"t":2006.80,"v":-37},{"t":2006.83,"v":-31},{"t":2006.87,"v":-19},{"t":2006.90,"v":-22},{"t":2006.94,"v":-24},{"t":2006.99,"v":-25},{"t":2007.03,"v":-25},{"t":2007.08,"v":-24},{"t":2007.12,"v":-22.7},{"t":2007.17,"v":-25},{"t":2007.21,"v":-27.6},{"t":2007.26,"v":-26},{"t":2007.30,"v":-24},{"t":2007.35,"v":-21},{"t":2007.39,"v":-18},{"t":2007.44,"v":-14},{"t":2007.49,"v":-10},{"t":2007.53,"v":-11},{"t":2007.58,"v":-11.6},{"t":2007.62,"v":-13},{"t":2007.67,"v":-14},{"t":2007.71,"v":-10},{"t":2007.76,"v":-6.7},{"t":2007.81,"v":-5},{"t":2007.85,"v":-4.3},{"t":2007.90,"v":-4},{"t":2007.94,"v":-3},{"t":2007.98,"v":2},{"t":2008.03,"v":-5.5},{"t":2008.07,"v":-15},{"t":2008.12,"v":-22.7},{"t":2008.17,"v":-18},{"t":2008.21,"v":-16.6},{"t":2008.26,"v":-16},{"t":2008.30,"v":-15},{"t":2008.35,"v":-11},{"t":2008.39,"v":-8},{"t":2008.44,"v":-13},{"t":2008.48,"v":-22.7},{"t":2008.53,"v":-25},{"t":2008.57,"v":-27.6},{"t":2008.62,"v":-30},{"t":2008.66,"v":-32.5},{"t":2008.71,"v":-38.6},{"t":2008.76,"v":-45},{"t":2008.80,"v":-50},{"t":2008.85,"v":-48.5},{"t":2008.89,"v":-53},{"t":2008.94,"v":-52},{"t":2008.98,"v":-51},{"t":2009.03,"v":-54},{"t":2009.07,"v":-57},{"t":2009.12,"v":-59},{"t":2009.16,"v":-61},{"t":2009.21,"v":-63},{"t":2009.25,"v":-58},{"t":2009.30,"v":-54.6},{"t":2009.34,"v":-51},{"t":2009.39,"v":-47},{"t":2009.44,"v":-46},{"t":2009.48,"v":-45},{"t":2009.55,"v":-30},{"t":2009.58,"v":-27},{"t":2009.62,"v":-25},{"t":2009.67,"v":-22},{"t":2009.71,"v":-19},{"t":2009.75,"v":-17},{"t":2009.77,"v":-16.6},{"t":2009.81,"v":-15},{"t":2009.86,"v":-13},{"t":2009.90,"v":-11.6},{"t":2009.95,"v":-20},{"t":2010.00,"v":-26},{"t":2010.04,"v":-32.5},{"t":2010.08,"v":-36},{"t":2010.13,"v":-40},{"t":2010.17,"v":-42},{"t":2010.22,"v":-20},{"t":2010.25,"v":-24},{"t":2010.27,"v":-35},{"t":2010.31,"v":-42},{"t":2010.36,"v":-48.5},{"t":2010.40,"v":-51},{"t":2010.47,"v":-53},{"t":2010.50,"v":-54},{"t":2010.54,"v":-54.6},{"t":2010.58,"v":-56},{"t":2010.61,"v":-58},{"t":2010.65,"v":-61},{"t":2010.68,"v":-55},{"t":2010.72,"v":-51},{"t":2010.75,"v":-52},{"t":2010.79,"v":-52},{"t":2010.82,"v":-53},{"t":2010.85,"v":-54.6},{"t":2010.88,"v":-56},{"t":2010.92,"v":-57},{"t":2010.95,"v":-60},{"t":2010.99,"v":-62},{"t":2011.02,"v":-62},{"t":2011.06,"v":-62},{"t":2011.10,"v":-60},{"t":2011.13,"v":-57},{"t":2011.17,"v":-53},{"t":2011.22,"v":-48.5},{"t":2011.26,"v":-47},{"t":2011.29,"v":-47},{"t":2011.32,"v":-48},{"t":2011.35,"v":-48.5},{"t":2011.38,"v":-50},{"t":2011.42,"v":-51},{"t":2011.46,"v":-53},{"t":2011.49,"v":-54.6},{"t":2011.52,"v":-57},{"t":2011.56,"v":-59.5},{"t":2011.60,"v":-61},{"t":2011.63,"v":-62},{"t":2011.66,"v":-63},{"t":2011.69,"v":-64},{"t":2011.72,"v":-62},{"t":2011.76,"v":-61},{"t":2011.80,"v":-61},{"t":2011.83,"v":-61},{"t":2011.86,"v":-63},{"t":2011.90,"v":-65.6},{"t":2011.93,"v":-64},{"t":2011.97,"v":-63},{"t":2012.00,"v":-62},{"t":2012.03,"v":-62},{"t":2012.07,"v":-61},{"t":2012.12,"v":-59.5},{"t":2012.15,"v":-59},{"t":2012.19,"v":-58},{"t":2012.22,"v":-60},{"t":2012.26,"v":-61},{"t":2012.30,"v":-59},{"t":2012.33,"v":-57},{"t":2012.36,"v":-57},{"t":2012.40,"v":-58},{"t":2012.43,"v":-60},{"t":2012.46,"v":-62},{"t":2012.50,"v":-59},{"t":2012.53,"v":-55.8},{"t":2012.58,"v":-50},{"t":2012.62,"v":-46},{"t":2012.67,"v":-40},{"t":2012.71,"v":-30},{"t":2012.76,"v":-26},{"t":2012.80,"v":-27.6},{"t":2012.85,"v":-33.7},{"t":2012.90,"v":-38.6},{"t":2012.94,"v":-35},{"t":2012.98,"v":-33},{"t":2013.01,"v":-31},{"t":2013.05,"v":-26},{"t":2013.10,"v":-24.5},{"t":2013.12,"v":-28},{"t":2013.15,"v":-32.5},{"t":2013.18,"v":-34},{"t":2013.21,"v":-35},{"t":2013.24,"v":-36},{"t":2013.28,"v":-37},{"t":2013.31,"v":-36},{"t":2013.35,"v":-35},{"t":2013.39,"v":-31},{"t":2013.42,"v":-30},{"t":2013.46,"v":-29},{"t":2013.50,"v":-28},{"t":2013.53,"v":-27.6},{"t":2013.56,"v":-27},{"t":2013.60,"v":-26},{"t":2013.64,"v":-27},{"t":2013.67,"v":-27.6},{"t":2013.72,"v":-28},{"t":2013.76,"v":-29},{"t":2013.80,"v":-27},{"t":2013.83,"v":-26},{"t":2013.86,"v":-25},{"t":2013.89,"v":-25},{"t":2013.92,"v":-24},{"t":2013.96,"v":-24},{"t":2014.00,"v":-25},{"t":2014.03,"v":-26},{"t":2014.06,"v":-28},{"t":2014.10,"v":-30},{"t":2014.13,"v":-32},{"t":2014.17,"v":-33.7},{"t":2014.20,"v":-35},{"t":2014.23,"v":-37},{"t":2014.26,"v":-38},{"t":2014.30,"v":-40},{"t":2014.34,"v":-40},{"t":2014.37,"v":-41},{"t":2014.40,"v":-42},{"t":2014.44,"v":-43.6},{"t":2014.47,"v":-45},{"t":2014.51,"v":-47},{"t":2014.54,"v":-48},{"t":2014.57,"v":-50},{"t":2014.60,"v":-48},{"t":2014.64,"v":-46},{"t":2014.68,"v":-44},{"t":2014.71,"v":-43.6},{"t":2014.74,"v":-44},{"t":2014.78,"v":-45},{"t":2014.82,"v":-45},{"t":2014.85,"v":-46},{"t":2014.88,"v":-48},{"t":2014.91,"v":-50},{"t":2014.94,"v":-51},{"t":2014.98,"v":-53},{"t":2015.02,"v":-55},{"t":2015.05,"v":-57},{"t":2015.08,"v":-57},{"t":2015.12,"v":-58},{"t":2015.15,"v":-58},{"t":2015.19,"v":-57},{"t":2015.22,"v":-56},{"t":2015.25,"v":-55.8},{"t":2015.29,"v":-56},{"t":2015.32,"v":-57},{"t":2015.36,"v":-56},{"t":2015.39,"v":-55.8},{"t":2015.42,"v":-57},{"t":2015.46,"v":-59.5},{"t":2015.49,"v":-61},{"t":2015.53,"v":-63},{"t":2015.56,"v":-64},{"t":2015.59,"v":-64},{"t":2015.62,"v":-63},{"t":2015.66,"v":-63},{"t":2015.69,"v":-64},{"t":2015.73,"v":-65.6},{"t":2015.76,"v":-67},{"t":2015.80,"v":-68},{"t":2015.83,"v":-68},{"t":2015.87,"v":-68},{"t":2015.90,"v":-68},{"t":2015.93,"v":-69},{"t":2015.97,"v":-69},{"t":2016.00,"v":-69},{"t":2016.04,"v":-70},{"t":2016.07,"v":-70.5},{"t":2016.10,"v":-70},{"t":2016.14,"v":-69},{"t":2016.17,"v":-70},{"t":2016.21,"v":-70.5},{"t":2016.24,"v":-72},{"t":2016.27,"v":-73},{"t":2016.30,"v":-73},{"t":2016.34,"v":-74},{"t":2016.37,"v":-73},{"t":2016.41,"v":-72},{"t":2016.44,"v":-72},{"t":2016.48,"v":-72.4},{"t":2016.51,"v":-72},{"t":2016.55,"v":-71},
      {"t":2016.60,"v":0},{"t":2016.65,"v":0},{"t":2016.70,"v":0},{"t":2016.75,"v":0},{"t":2016.80,"v":0},{"t":2016.85,"v":0},{"t":2016.90,"v":0},{"t":2016.95,"v":0},
      {"t":2017.00,"v":0},{"t":2017.05,"v":0},{"t":2017.10,"v":0},{"t":2017.15,"v":0},{"t":2017.20,"v":0},{"t":2017.25,"v":0},{"t":2017.30,"v":0},{"t":2017.35,"v":0},{"t":2017.40,"v":0},{"t":2017.45,"v":0},{"t":2017.50,"v":0},{"t":2017.55,"v":0},{"t":2017.60,"v":0},{"t":2017.65,"v":0},{"t":2017.70,"v":0},{"t":2017.75,"v":0},{"t":2017.80,"v":0},{"t":2017.85,"v":0},{"t":2017.90,"v":0},{"t":2017.95,"v":0},
      {"t":2018.00,"v":0},{"t":2018.05,"v":0},{"t":2018.10,"v":0},{"t":2018.15,"v":0},{"t":2018.20,"v":0},{"t":2018.25,"v":0},{"t":2018.30,"v":0},{"t":2018.35,"v":0},{"t":2018.40,"v":0},{"t":2018.45,"v":0},{"t":2018.50,"v":0},{"t":2018.55,"v":0},{"t":2018.60,"v":0},{"t":2018.65,"v":0},{"t":2018.70,"v":0},{"t":2018.75,"v":0},{"t":2018.80,"v":0},{"t":2018.85,"v":0},{"t":2018.90,"v":0},{"t":2018.95,"v":0},
      {"t":2019.00,"v":0},{"t":2019.05,"v":0},{"t":2019.10,"v":0},{"t":2019.15,"v":0},{"t":2019.20,"v":0},{"t":2019.25,"v":0},{"t":2019.30,"v":0},{"t":2019.35,"v":0},{"t":2019.40,"v":0},{"t":2019.45,"v":0},{"t":2019.50,"v":0},{"t":2019.55,"v":0},{"t":2019.60,"v":0},{"t":2019.65,"v":0},{"t":2019.70,"v":0},{"t":2019.75,"v":0},{"t":2019.80,"v":0},{"t":2019.85,"v":0},{"t":2019.90,"v":0},{"t":2019.95,"v":0},
      {"t":2020.00,"v":0},{"t":2020.05,"v":0},{"t":2020.10,"v":0},{"t":2020.15,"v":0},{"t":2020.20,"v":0},{"t":2020.25,"v":0},{"t":2020.30,"v":0},{"t":2020.35,"v":0},{"t":2020.40,"v":0},{"t":2020.45,"v":0},{"t":2020.50,"v":0},{"t":2020.55,"v":0},{"t":2020.60,"v":0},{"t":2020.65,"v":0},{"t":2020.70,"v":0},{"t":2020.75,"v":0},{"t":2020.80,"v":0},{"t":2020.85,"v":0},{"t":2020.90,"v":0},{"t":2020.95,"v":0},
      {"t":2021.00,"v":0},{"t":2021.05,"v":0},{"t":2021.10,"v":0},{"t":2021.15,"v":0},{"t":2021.20,"v":0},{"t":2021.25,"v":0},{"t":2021.30,"v":0},{"t":2021.35,"v":0},{"t":2021.40,"v":0},{"t":2021.45,"v":0},{"t":2021.50,"v":0},{"t":2021.55,"v":0},{"t":2021.60,"v":0},{"t":2021.65,"v":0},{"t":2021.70,"v":0},{"t":2021.75,"v":0},{"t":2021.80,"v":0},{"t":2021.85,"v":0},{"t":2021.90,"v":0},{"t":2021.95,"v":0},
      {"t":2022.00,"v":0},{"t":2022.05,"v":0},{"t":2022.10,"v":0},{"t":2022.15,"v":0},{"t":2022.20,"v":0},{"t":2022.25,"v":0},{"t":2022.30,"v":0},{"t":2022.35,"v":0},{"t":2022.40,"v":0},{"t":2022.45,"v":0},{"t":2022.50,"v":0},{"t":2022.55,"v":0},{"t":2022.60,"v":0},{"t":2022.65,"v":0},{"t":2022.70,"v":0},{"t":2022.75,"v":0},{"t":2022.80,"v":0},{"t":2022.85,"v":0},{"t":2022.90,"v":0}
    ],
    "zero": [{"t":1997.0,"v":0},{"t":2016.57,"v":0}]
  },
  "concat": [
    {
      "width": 2119,
      "height": 54,
      "view": {"fill": "#7fc97f", "stroke": null},
      "data": {"values": [{"txt": "ADAM Informe. Evolution historique des performances en euros pour des détentions de 4 ans (A04) à 10 ans (A10) avec les revenus connus capitalisés"}]},
      "mark": {"type": "text", "font": "Liberation Sans", "fontWeight": "bold", "fontSize": 30.3, "color": "#000000", "baseline": "middle", "align": "center", "dx": -49},
      "encoding": {
        "text": {"field": "txt", "type": "nominal"},
        "y": {
          "datum": 0, "type": "quantitative",
          "scale": {"domain": [-1, 1]},
          "axis": {"title": null, "labels": false, "ticks": false, "grid": false, "domain": true, "domainColor": "#7fc97f", "domainWidth": 194, "domainCap": "butt", "minExtent": 97, "maxExtent": 97}
        }
      }
    },
    {
      "width": 2044,
      "height": 933,
      "title": {
        "text": ["Performance par rapport à l'indice EU STOXX 600 GROSS TR  du placement ANA Holdings Inc en fonction de la date de début pour des durées", "entre 4 (A04) et 10 ans (A10). Cotations entre janv. 1997 et juil. 2026. Revenus CAPITALISES depuis mars. 1997."],
        "font": "Liberation Sans",
        "fontSize": 26.4,
        "fontWeight": "normal",
        "color": "#595959",
        "lineHeight": 41,
        "anchor": "middle",
        "frame": "group",
        "offset": -58,
        "dx": -17
      },
      "layer": [
        {
          "data": {"values": [{}]},
          "mark": {"type": "rule", "color": "#bfbfbf", "strokeWidth": 2},
          "encoding": {"y": {"datum": -33.3, "type": "quantitative"}}
        },
        {
          "data": {"values": [{}]},
          "mark": {"type": "rect", "color": "#ffffff"},
          "encoding": {
            "x": {"datum": 1999.05, "type": "quantitative"},
            "x2": {"datum": 2020.49},
            "y": {"datum": 87, "type": "quantitative"},
            "y2": {"datum": 100.6}
          }
        },
        {
          "data": {"name": "a04"},
          "mark": {"type": "point", "shape": "M-1,0H1M0,-1V1", "filled": false, "size": 110, "strokeWidth": 1.4, "opacity": 1},
          "encoding": {
            "x": {
              "field": "t", "type": "quantitative",
              "scale": {"domain": [1997, 2023.04], "nice": false, "zero": false},
              "axis": {
                "title": null,
                "values": [1997, 1999, 2001, 2003, 2005, 2007, 2009, 2011, 2013, 2015, 2017, 2019, 2021],
                "labelExpr": "'01/01/' + datum.value",
                "grid": true, "gridColor": "#d9d9d9", "gridWidth": 1.5,
                "domain": false, "ticks": false,
                "labelFont": "Liberation Sans", "labelFontSize": 21, "labelColor": "#595959",
                "labelPadding": 24, "labelFlush": false, "labelOverlap": false
              }
            },
            "y": {
              "field": "v", "type": "quantitative",
              "scale": {"domain": [-100, 100], "nice": false, "zero": false},
              "axis": {
                "title": null,
                "values": [-100, -80, -60, -40, -20, 0, 20, 40, 60, 80, 100],
                "labelExpr": "datum.value < 0 ? '- ' + abs(datum.value) + '%' : datum.value + '%'",
                "grid": true, "gridColor": "#d9d9d9", "gridWidth": 1.5,
                "domain": false, "ticks": false,
                "labelFont": "Liberation Sans", "labelFontSize": 21, "labelColor": "#595959",
                "labelPadding": 20, "labelFlush": false, "minExtent": 97, "maxExtent": 97
              }
            },
            "color": {
              "datum": "Rendement_A04", "type": "nominal",
              "scale": {"domain": ["Rendement_A04", "Rendement_A07", "Rendement_A10"], "range": ["#ffc000", "#0070c0", "#ff0000"]},
              "legend": {
                "title": null,
                "orient": "none",
                "legendX": 1715,
                "legendY": 95,
                "fillColor": "#ffffff",
                "padding": 12,
                "symbolType": "M-1,0H1M0,-1V1",
                "symbolSize": 72,
                "symbolStrokeWidth": 2.4,
                "symbolOffset": 32,
                "labelOffset": 16,
                "rowPadding": 35.5,
                "labelFont": "Liberation Sans",
                "labelFontSize": 27,
                "labelColor": "#595959",
                "labelLimit": 400,
                "labelExpr": "datum.label + '    '"
              }
            }
          }
        },
        {
          "data": {"name": "a07"},
          "mark": {"type": "point", "shape": "M-1,0H1M0,-1V1", "filled": false, "size": 81, "strokeWidth": 2.6, "opacity": 1},
          "encoding": {
            "x": {"field": "t", "type": "quantitative"},
            "y": {"field": "v", "type": "quantitative"},
            "color": {"datum": "Rendement_A07", "type": "nominal", "legend": null}
          }
        },
        {
          "data": {"name": "a10"},
          "mark": {"type": "point", "shape": "M-1,0H1M0,-1V1", "filled": false, "size": 81, "strokeWidth": 2.6, "opacity": 1},
          "encoding": {
            "x": {"field": "t", "type": "quantitative"},
            "y": {"field": "v", "type": "quantitative"},
            "color": {"datum": "Rendement_A10", "type": "nominal", "legend": null}
          }
        },
        {
          "data": {"name": "zero"},
          "mark": {"type": "line", "color": "#000000", "strokeWidth": 5, "strokeCap": "butt"},
          "encoding": {
            "x": {"field": "t", "type": "quantitative"},
            "y": {"field": "v", "type": "quantitative"},
            "strokeDash": {
              "datum": "0,0%", "type": "nominal",
              "scale": {"domain": ["0,0%"], "range": [[1, 0]]},
              "legend": {
                "title": null,
                "orient": "none",
                "legendX": 1715,
                "legendY": 275,
                "fillColor": "#ffffff",
                "padding": 12,
                "symbolType": "stroke",
                "symbolSize": 2304,
                "symbolStrokeColor": "#000000",
                "symbolStrokeWidth": 6,
                "symbolOffset": 22,
                "labelOffset": 3,
                "labelFont": "Liberation Sans",
                "labelFontSize": 27,
                "labelColor": "#595959",
                "labelLimit": 400,
                "labelExpr": "datum.label + '                       '"
              }
            }
          }
        }
      ]
    }
  ]
}
